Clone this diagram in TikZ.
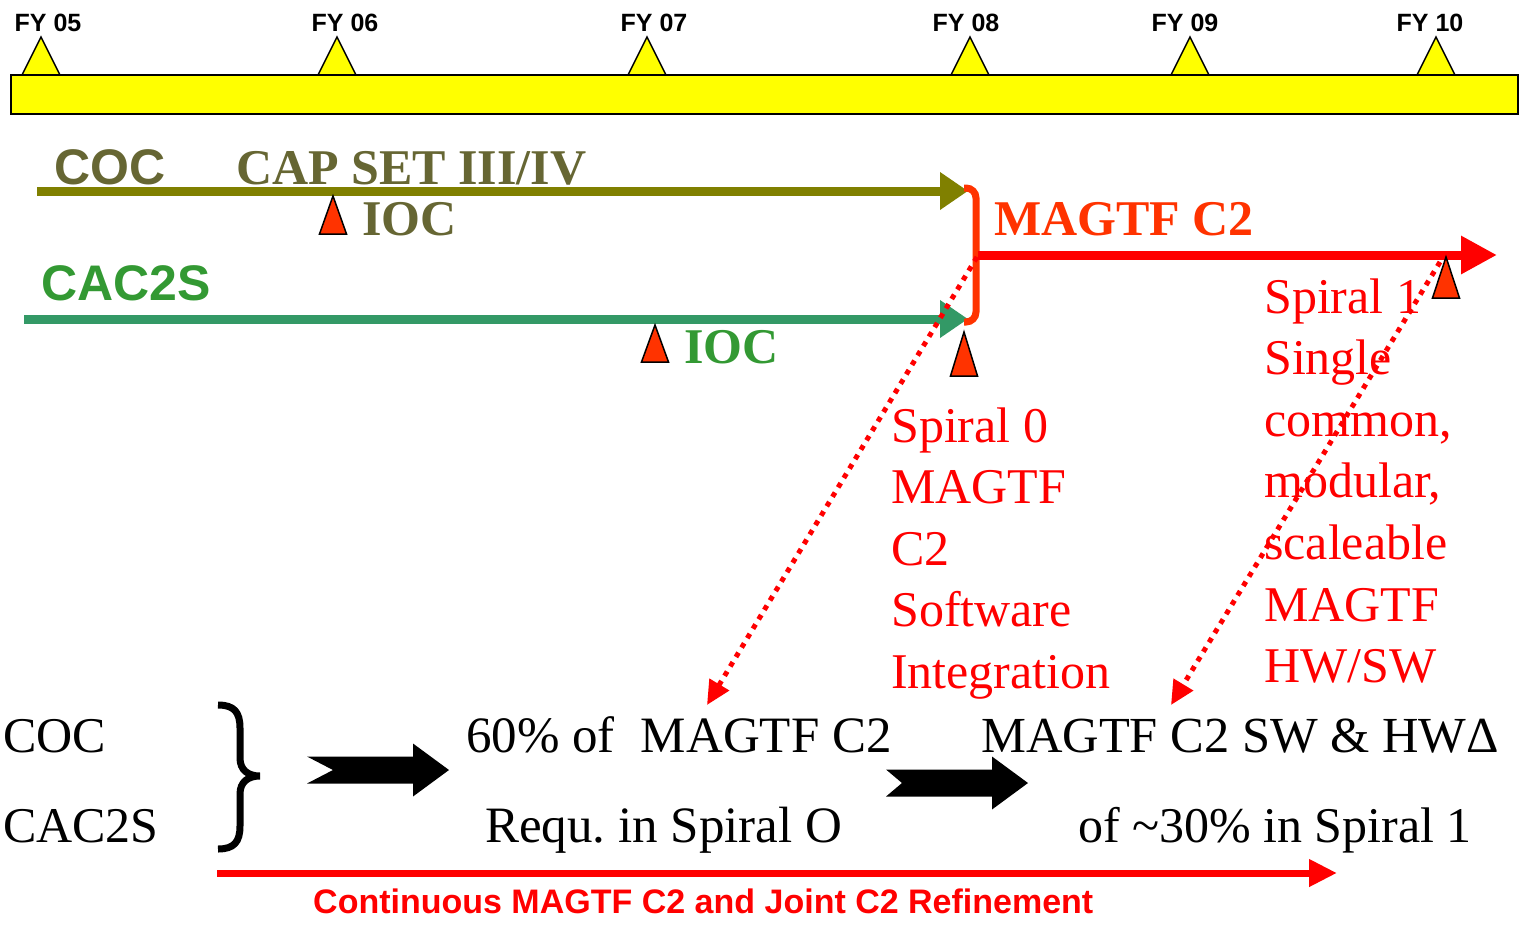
\documentclass[tikz,border=0pt]{standalone}
\usepackage{fontspec}
\setmainfont{Liberation Serif}
\newfontfamily\arialfont{Liberation Sans}
\usetikzlibrary{arrows.meta}
\definecolor{barYellow}{HTML}{FFFF00}
\definecolor{cocLine}{HTML}{808000}
\definecolor{cocText}{HTML}{666633}
\definecolor{cacLine}{HTML}{339966}
\definecolor{cacText}{HTML}{339933}
\definecolor{magOrange}{HTML}{FF3300}
\definecolor{magRed}{HTML}{FF0000}
\newcommand{\fsz}[1]{\fontsize{#1}{#1}\selectfont}

\begin{document}
\begin{tikzpicture}[x=1pt, y=-1pt,
  every node/.style={inner sep=0pt, anchor=base west, font=\fsz{50}},
  fylabel/.style={anchor=base, font=\arialfont\bfseries\fsz{25}},
  sanslabel/.style={font=\arialfont\bfseries\fsz{50}},
  seriflabel/.style={font=\bfseries\fsz{50}},
  milestone/.style={fill=magOrange, draw=black, line width=1.5pt, line join=miter},
  spiraltext/.style={text=magRed}]
  \useasboundingbox (0,0) rectangle (1523,927);

  % time bar with fiscal years
  \foreach \ax/\lx/\yr in {41/48/05, 337/345/06, 647/654/07, 970/966/08, 1190/1185/09, 1436/1430/10} {
    \filldraw[fill=barYellow, draw=black, line width=1.5pt] (\ax-19,75) -- (\ax,37) -- (\ax+19,75);
    \node[fylabel] (fy\yr) at (\lx,31) {FY \yr};
  }
  \filldraw[fill=barYellow, draw=black, line width=1.5pt] (11,75) rectangle (1518,114);

  % programme lines
  \coordinate (cocStart) at (37,191);
  \coordinate (cocEnd) at (968,191);
  \coordinate (cacStart) at (24,319);
  \coordinate (cacEnd) at (968,319);
  \coordinate (magStart) at (978,255);
  \coordinate (magEnd) at (1497,255);
  \draw[cocLine, line width=9pt, -{Triangle[length=28pt,width=36pt]}] (cocStart) -- (cocEnd);
  \draw[cacLine, line width=9pt, -{Triangle[length=28pt,width=36pt]}] (cacStart) -- (cacEnd);
  \draw[magOrange, line width=7pt, rounded corners=10pt] (964,188) -- (976,188) -- (976,322) -- (964,322);
  \draw[magRed, line width=9pt, -{Triangle[length=36pt,width=36pt]}] (magStart) -- (magEnd);

  % milestones
  \foreach \mx/\my/\mh in {333/196/38, 655/325/37, 964/332/44, 1446/257/41}
    \draw[milestone] (\mx-13.5,\my+\mh) -- (\mx,\my) -- (\mx+13.5,\my+\mh) -- cycle;

  \node[sanslabel, text=cocText] (cocLabel) at (54,184) {COC};
  \node[seriflabel, text=cocText] (capSet) at (236,184) {CAP SET III/IV};
  \node[seriflabel, text=cocText] (cocIoc) at (362,235) {IOC};
  \node[sanslabel, text=cacText] (cacLabel) at (41,300) {CAC2S};
  \node[seriflabel, text=cacText] (cacIoc) at (684,363) {IOC};
  \node[seriflabel, text=magOrange] (magLabel) at (994,235) {MAGTF C2};

  % spiral notes
  \foreach \txt [count=\i from 0] in {Spiral 0, MAGTF, C2, Software, Integration}
    \node[spiraltext] (spz\i) at (891,442+61.5*\i) {\txt};
  \foreach \txt [count=\i from 0] in {Spiral 1, Single, {common,}, {modular,}, scaleable, MAGTF, HW/SW}
    \node[spiraltext] (spo\i) at (1264,313+61.6*\i) {\txt};

  % dotted links
  \coordinate (linkZeroA) at (977,257);
  \coordinate (linkZeroB) at (707,705);
  \coordinate (linkOneA) at (1440,262);
  \coordinate (linkOneB) at (1171,705);
  \draw[magRed, line width=5pt, dash pattern=on 5pt off 6pt, -{Triangle[length=24pt,width=22pt]}] (linkZeroA) -- (linkZeroB);
  \draw[magRed, line width=5pt, dash pattern=on 5pt off 6pt, -{Triangle[length=24pt,width=22pt]}] (linkOneA) -- (linkOneB);

  % bottom summary
  \node (botCoc) at (3,752) {COC};
  \node (botCac) at (3,842) {CAC2S};
  \draw[line width=7pt] (218,705) .. controls (234,705) and (240,712) .. (240,728) -- (240,758)
    .. controls (240,770) and (248,776) .. (260,776) .. controls (248,776) and (240,782) .. (240,794)
    -- (240,826) .. controls (240,842) and (234,849) .. (218,849);
  \foreach \bx/\by/\nd in {307/770/26, 886/783/16}
    \fill (\bx,\by-13.5) -- (\bx+106,\by-13.5) -- (\bx+106,\by-26.5) -- (\bx+142,\by)
      -- (\bx+106,\by+26.5) -- (\bx+106,\by+13.5) -- (\bx,\by+13.5) -- (\bx+\nd,\by) -- cycle;
  \node[font=\fsz{51}] (spzReq) at (466,752) {60\% of\hspace{26pt}MAGTF C2};
  \node[font=\fsz{51}] (spzReqB) at (485,842) {Requ.\ in Spiral O};
  \node[font=\fsz{50.5}] (spoReq) at (981,752) {MAGTF C2 SW \& HWΔ};
  \node (spoReqB) at (1078,842) {of \textasciitilde30\% in Spiral 1};

  \coordinate (refineStart) at (217,873);
  \coordinate (refineEnd) at (1337,873);
  \draw[magRed, line width=7pt, -{Triangle[length=28pt,width=26pt]}] (refineStart) -- (refineEnd);
  \node[text=magRed, font=\arialfont\bfseries\fsz{34}] (refineLabel) at (313,913) {Continuous MAGTF C2 and Joint C2 Refinement};
\end{tikzpicture}
\end{document}
